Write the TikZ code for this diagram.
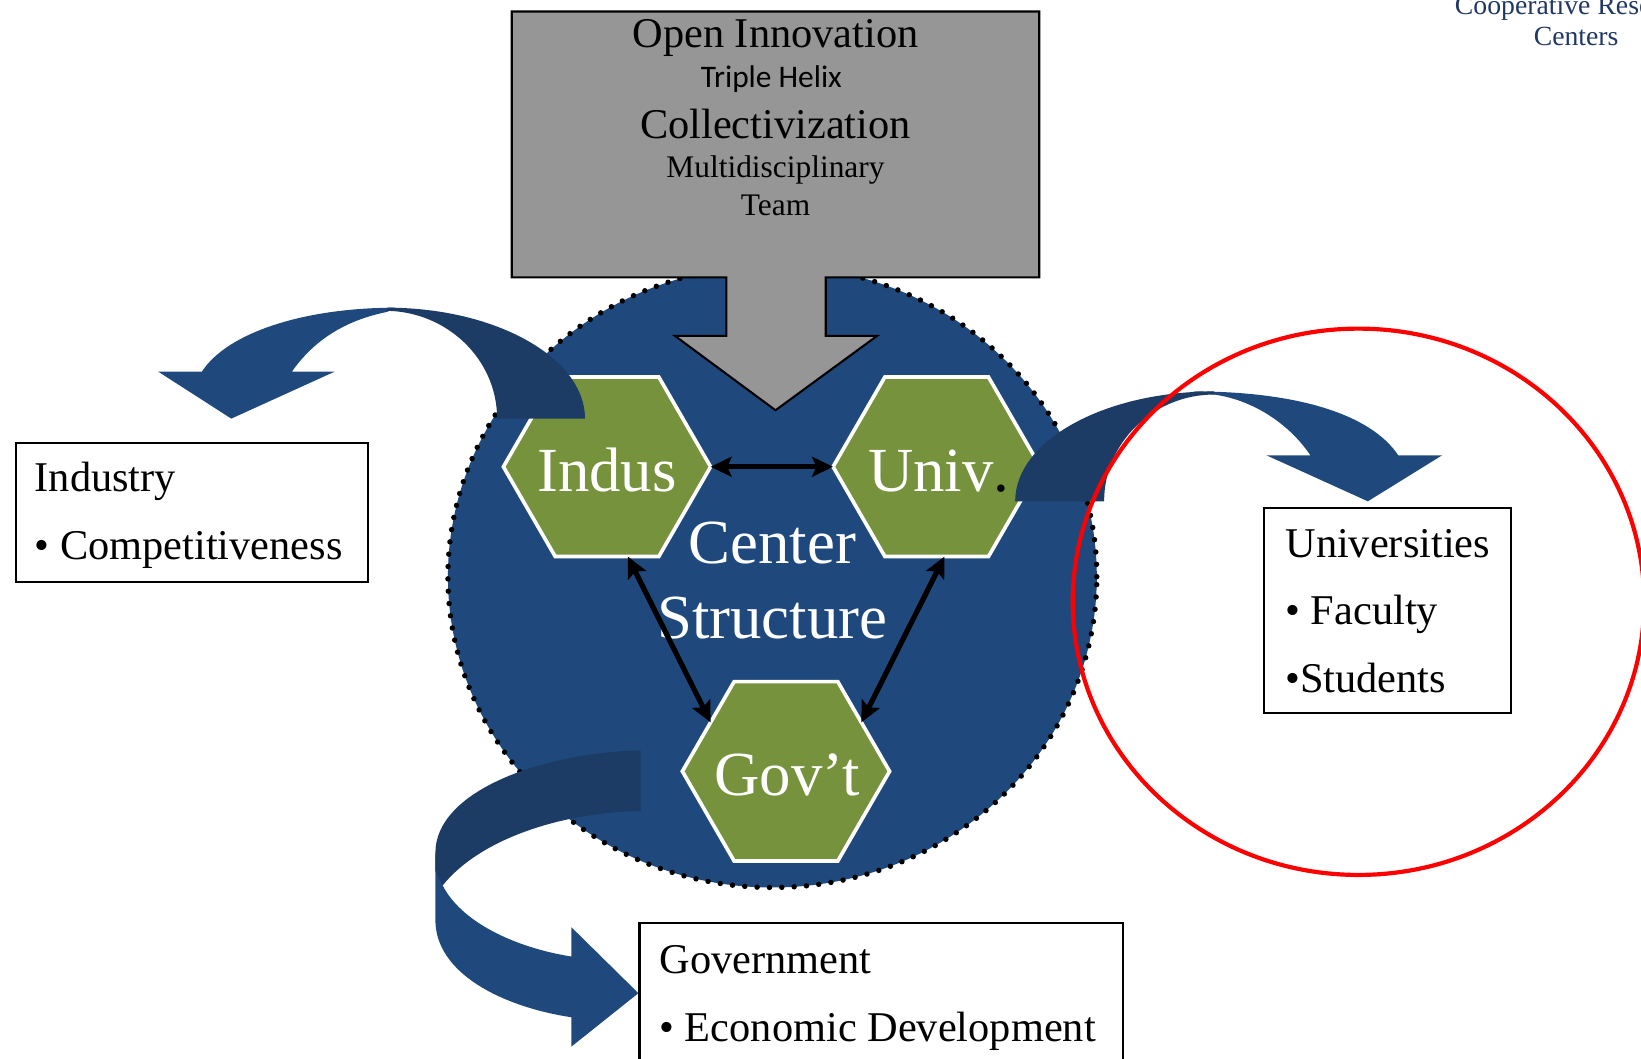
\documentclass[tikz,border=0pt]{standalone}
\usepackage{fontspec}
\setmainfont{Liberation Serif}
\newfontfamily\calib{Carlito}
\usetikzlibrary{shapes.geometric,arrows.meta}
\definecolor{cblue}{HTML}{1F497D}
\definecolor{cdark}{HTML}{1C3B65}
\definecolor{hexgreen}{HTML}{77923C}
\definecolor{boxgray}{HTML}{969696}
\definecolor{navytext}{HTML}{1F3864}
\newcommand{\fs}[1]{\fontsize{#1bp}{#1bp}\selectfont}
\begin{document}
\begin{tikzpicture}[x=1bp,y=-1bp,
  hexnode/.style={regular polygon, regular polygon sides=6, minimum size=198bp,
    inner sep=0pt, outer sep=0pt, fill=hexgreen, draw=white, line width=3.5bp},
  hextext/.style={anchor=base, inner sep=0pt, text=white, font=\fs{60}},
  boxline/.style={draw=black, line width=2bp},
  boxnode/.style={boxline, fill=white, inner sep=0pt, outer sep=0pt},
  bodytext/.style={anchor=base west, inner sep=0pt, font=\fs{40.5}},
  graytext/.style={anchor=base, inner sep=0pt},
  dblarrow/.style={line width=5bp, {Stealth[length=20bp,width=19bp,inset=4bp]}-{Stealth[length=20bp,width=19bp,inset=4bp]}},
  centertext/.style={anchor=base, inner sep=0pt, text=white, font=\fs{60}}]
\useasboundingbox (0,0) rectangle (1568,1011);
% central circle
\fill[cblue] (738,551) ellipse [x radius=310bp, y radius=297bp];
\draw[black, line width=5.2bp, line cap=round, dash pattern=on 0bp off 11.8bp]
  (738,551) ellipse [x radius=310bp, y radius=297bp];
% gray box with downward arrow
\draw[fill=boxgray, line width=2bp, line join=miter]
  (489,11) -- (993,11) -- (993,265) -- (789,265) -- (789,321) -- (838,321)
  -- (741,392) -- (645,321) -- (694,321) -- (694,265) -- (489,265) -- cycle;
\node[graytext, font=\fs{40.5}] (oi) at (741,45) {Open Innovation};
\node[graytext, font=\calib\fs{30}] (th) at (737,84) {Triple Helix};
\node[graytext, font=\fs{40.5}] (col) at (741,132) {Collectivization};
\node[graytext, font=\fs{30}] (md) at (741,170) {Multidisciplinary};
\node[graytext, font=\fs{30}] (tm) at (741,206) {Team};
% hexagons
\node[hexnode] (indus) at (580,446) {};
\node[hexnode] (univ) at (895,446) {};
\node[hexnode] (gov) at (751,737) {};
\node[hextext] (indusl) at (580,470) {Indus};
\node[hextext] (univl) at (897,470) {Univ\textcolor{black}{.}};
\node[hextext] (govl) at (752,760) {Gov’t};
\node[centertext] (ctr) at (738,538) {Center};
\node[centertext] (str) at (738,610) {Structure};
% connectors
\draw[dblarrow] (indus.0) -- (univ.180);
\draw[dblarrow] (indus.-77) -- (gov.147);
\draw[dblarrow] (univ.-85) -- (gov.33);
% left curved arrow
\fill[cblue] (151,355) -- (193,355) .. controls (217,318) and (290,294) .. (378,294)
  -- (370,298) .. controls (330,306) and (300,325) .. (279,355) -- (320,355) -- (221,400) -- cycle;
\fill[cdark] (370,294) .. controls (474,294) and (559,342) .. (559,400) -- (475,400)
  .. controls (475,343) and (427,298) .. (370,297) -- cycle;
% right curved arrow
\fill[cblue] (1378,435) -- (1336,435) .. controls (1310,396) and (1240,374) .. (1140,374)
  -- (1160,377) .. controls (1197,382) and (1232,405) .. (1252,435) -- (1210,435) -- (1307,479) -- cycle;
\fill[cdark] (970,479) .. controls (970,421) and (1055,374) .. (1160,374) -- (1160,377)
  .. controls (1103,377) and (1055,422) .. (1055,479) -- cycle;
% bottom curved arrow
\fill[cblue] (416,815) -- (416,879) .. controls (416,930) and (480,962) .. (546,972)
  -- (546,1000) -- (610,949) -- (546,886) -- (546,914)
  .. controls (490,905) and (440,880) .. (423,846) -- cycle;
\fill[cdark] (612,717) .. controls (520,719) and (416,755) .. (416,815) -- (416,832)
  -- (423,846) .. controls (460,800) and (540,776) .. (612,775) -- cycle;
% boxes
\node[boxnode, anchor=north west, minimum width=337bp, minimum height=133bp] (indbox) at (15,423) {};
\node[bodytext] (indt) at (33,470) {Industry};
\node[bodytext] (indc) at (33,535) {• Competitiveness};
\node[boxnode, anchor=north west, minimum width=236bp, minimum height=196bp] (unibox) at (1208,485) {};
\node[bodytext] (unit) at (1228,533) {Universities};
\node[bodytext] (unif) at (1228,597) {• Faculty};
\node[bodytext] (unis) at (1228,662) {•Students};
\fill[white] (611,882) rectangle (1073,1011);
\draw[boxline] (611,1012) -- (611,882) -- (1073,882) -- (1073,1012);
\node[bodytext] (govt) at (630,930) {Government};
\node[bodytext] (gove) at (630,995) {• Economic Development};
% red circle
\draw[red, line width=4bp] (1298,575) ellipse [x radius=273bp, y radius=261bp];
% top right caption
\node[anchor=base west, inner sep=0pt, text=navytext, font=\fs{26.5}] (crc1) at (1390,14) {Cooperative Rese};
\node[anchor=base, inner sep=0pt, text=navytext, font=\fs{26.5}] (crc2) at (1506,43) {Centers};
\end{tikzpicture}
\end{document}
